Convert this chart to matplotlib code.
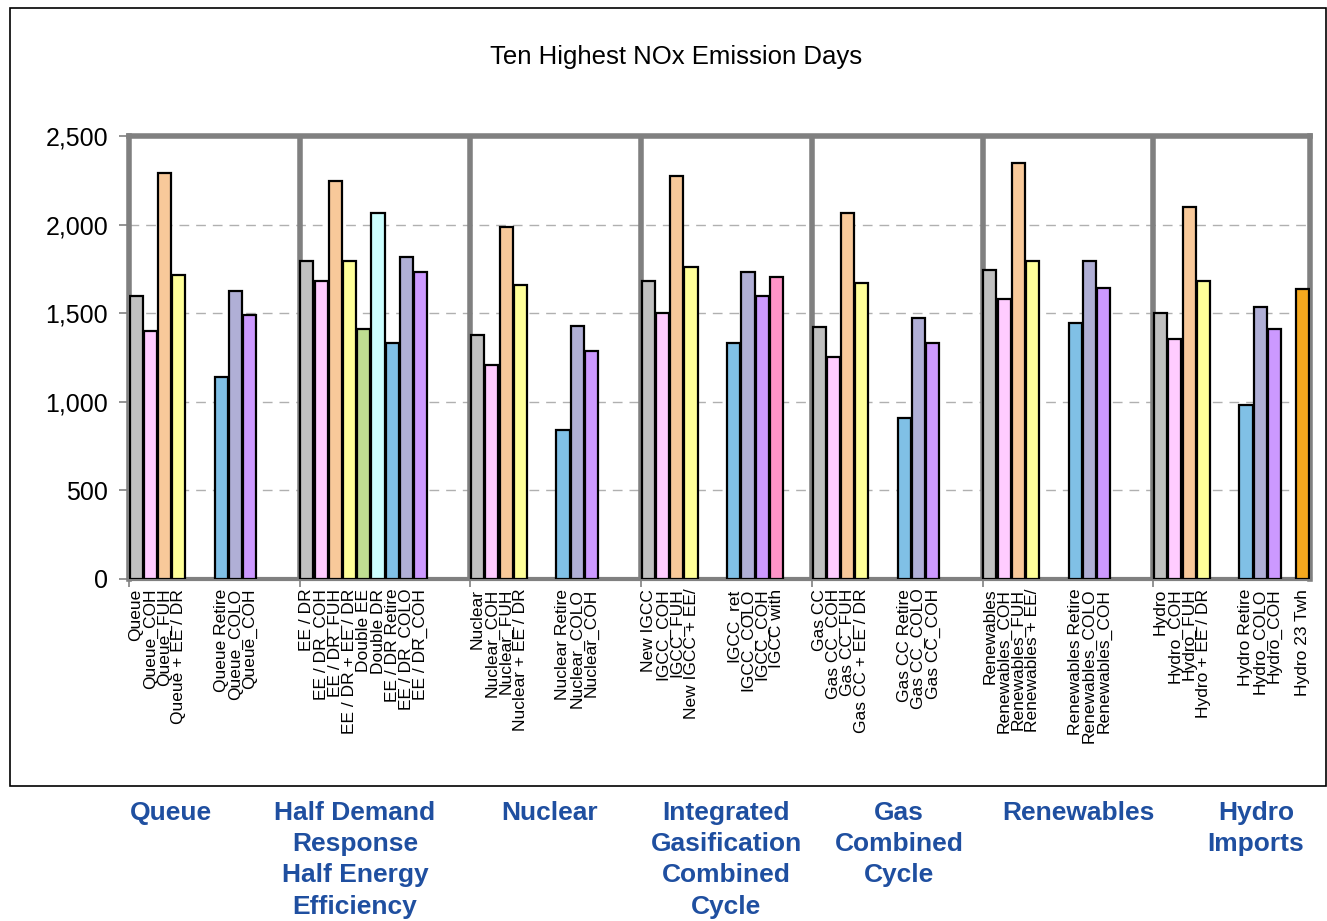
import matplotlib
matplotlib.use('Agg')
import matplotlib.pyplot as plt
from matplotlib.patches import Rectangle

plt.rcParams['font.family'] = ['Liberation Sans', 'DejaVu Sans']

# Data: one list per scenario group, None = empty category slot
group_names = ['Queue', 'Half Demand\nResponse\nHalf Energy\nEfficiency', 'Nuclear',
               'Integrated\nGasification\nCombined\nCycle', 'Gas\nCombined\nCycle',
               'Renewables', 'Hydro\nImports']

queue_vals = [1595, 1400, 2290, 1715, None, None, 1140, 1625, 1490]
half_vals = [1795, 1680, 2245, 1795, 1410, 2065, 1330, 1815, 1735]
nuclear_vals = [1375, 1205, 1985, 1660, None, None, 840, 1430, 1285]
igcc_vals = [1680, 1500, 2275, 1760, None, None, 1330, 1735, 1595, 1705]
gas_vals = [1420, 1250, 2065, 1670, None, None, 910, 1475, 1330]
renew_vals = [1745, 1580, 2345, 1795, None, None, 1445, 1795, 1645]
hydro_vals = [1500, 1355, 2100, 1680, None, None, 980, 1535, 1410, None, 1635]

queue_labels = ['Queue', 'Queue_COH', 'Queue_FUH', 'Queue + EE / DR', '', '',
                'Queue Retire', 'Queue_COLO', 'Queue_COH']
half_labels = ['EE / DR', 'EE / DR_COH', 'EE / DR_FUH', 'EE / DR + EE / DR', 'Double EE',
               'Double DR', 'EE / DR Retire', 'EE / DR_COLO', 'EE / DR_COH']
nuclear_labels = ['Nuclear', 'Nuclear_COH', 'Nuclear_FUH', 'Nuclear + EE / DR', '', '',
                  'Nuclear Retire', 'Nuclear_COLO', 'Nuclear_COH']
igcc_labels = ['New IGCC', 'IGCC_COH', 'IGCC_FUH', 'New IGCC + EE/', '', '',
               'IGCC_ret', 'IGCC_COLO', 'IGCC_COH', 'IGCC with']
gas_labels = ['Gas CC', 'Gas CC_COH', 'Gas CC_FUH', 'Gas CC + EE / DR', '', '',
              'Gas CC Retire', 'Gas CC_COLO', 'Gas CC_COH']
renew_labels = ['Renewables', 'Renewables_COH', 'Renewables_FUH', 'Renewables + EE/', '', '',
                'Renewables Retire', 'Renewables_COLO', 'Renewables_COH']
hydro_labels = ['Hydro', 'Hydro_COH', 'Hydro_FUH', 'Hydro + EE / DR', '', '',
                'Hydro Retire', 'Hydro_COLO', 'Hydro_COH', '', 'Hydro 23 Twh']

grey, pink, peach, yellow = '#c0c0c0', '#ffccff', '#f8c99a', '#ffff99'
blue, lav, purple = '#80c0e6', '#b0afd6', '#cc99ff'
std_colors = [grey, pink, peach, yellow, None, None, blue, lav, purple]
half_colors = [grey, pink, peach, yellow, '#bfdd92', '#ccffff', blue, lav, purple]
igcc_colors = std_colors + ['#ff94c8']
hydro_colors = std_colors + [None, '#f5a81e']

groups = [queue_vals, half_vals, nuclear_vals, igcc_vals, gas_vals, renew_vals, hydro_vals]
labels = [queue_labels, half_labels, nuclear_labels, igcc_labels, gas_labels,
          renew_labels, hydro_labels]
colors = [std_colors, half_colors, std_colors, igcc_colors, std_colors, std_colors,
          hydro_colors]

slots_per_group = 12
n_slots = slots_per_group * 6 + 11

fig = plt.figure(figsize=(13.27, 9.21), dpi=100)
ax = fig.add_axes([129 / 1327, 1 - 579 / 921, 1181 / 1327, 443 / 921])

tick_pos, tick_lab = [], []
for g, (vals, labs, cols) in enumerate(zip(groups, labels, colors)):
    for i, (v, lab, c) in enumerate(zip(vals, labs, cols)):
        x = g * slots_per_group + i + 0.5
        if v is not None:
            ax.bar(x, v, width=0.92, color=c, edgecolor='black', linewidth=1.6, zorder=3)
        tick_pos.append(x)
        tick_lab.append(lab)

ax.set_xlim(0, n_slots)
ax.set_ylim(0, 2500)
ax.set_yticks([0, 500, 1000, 1500, 2000, 2500])
ax.set_yticklabels(['0', '500', '1,000', '1,500', '2,000', '2,500'], fontsize=18)
ax.tick_params(axis='y', length=7, color='#808080', width=1.2, pad=8)

ax.set_xticks(tick_pos)
ax.set_xticklabels(tick_lab, rotation=90, fontsize=12.5, va='top')
ax.tick_params(axis='x', length=0, pad=7)
ax.set_xticks([g * slots_per_group for g in range(7)], minor=True)
ax.tick_params(axis='x', which='minor', length=6, color='#808080', width=1.2)

for y in [500, 1000, 1500, 2000]:
    ax.axhline(y, color='#b0b0b0', linewidth=1, dashes=(7, 5), zorder=1)
for g in range(1, 7):
    ax.axvline(g * slots_per_group, color='#808080', linewidth=4, zorder=2)

for side in ['left', 'top', 'right']:
    ax.spines[side].set_color('#808080')
    ax.spines[side].set_linewidth(4)
ax.spines['bottom'].set_color('#808080')
ax.spines['bottom'].set_linewidth(3)

fig.text(676 / 1327, 1 - 57 / 921, 'Ten Highest NOx Emission Days', fontsize=18.5,
         ha='center', va='center')

# outer chart border
fig.patches.append(Rectangle((10 / 1327, 1 - 786 / 921), 1316 / 1327, 778 / 921,
                             transform=fig.transFigure, fill=False,
                             edgecolor='black', linewidth=1.2))

group_x = [171, 355, 550, 726, 899, 1078, 1256]
for name, gx in zip(group_names, group_x):
    fig.text(gx / 1327, 1 - 801 / 921, name, fontsize=19, fontweight='bold',
             color='#1f4fa0', ha='center', va='top', linespacing=1.38)

fig.savefig('out.png', dpi=100)
